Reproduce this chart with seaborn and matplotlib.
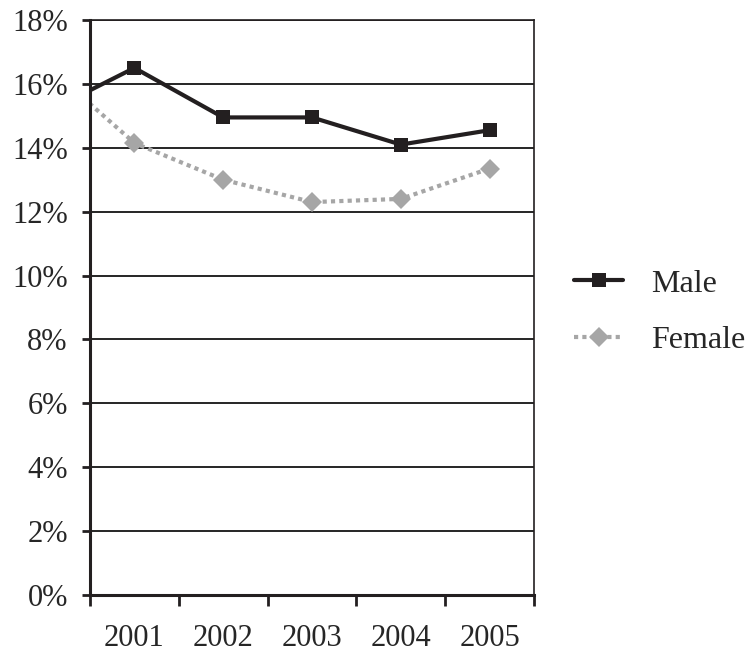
import pandas as pd
import numpy as np
import matplotlib
matplotlib.use("Agg")
import matplotlib.pyplot as plt
import seaborn as sns
from matplotlib.ticker import FuncFormatter

# data (2000 value only feeds the segment clipped at the left edge)
years = [2000, 2001, 2002, 2003, 2004, 2005]
male = [15.1, 16.5, 14.95, 14.95, 14.1, 14.55]
female = [16.6, 14.15, 13.0, 12.3, 12.4, 13.35]
year_labels = ["2001", "2002", "2003", "2004", "2005"]

df = pd.DataFrame({
    "year": years * 2,
    "value": male + female,
    "sex": ["Male"] * len(years) + ["Female"] * len(years),
})

sns.set_style("white")
plt.rcParams["font.family"] = ["Liberation Serif", "DejaVu Serif"]

fig = plt.figure(figsize=(7.54, 6.55), dpi=100)
ax = fig.add_axes([90 / 754, 1 - 595 / 655, 444 / 754, 575 / 655])

sns.lineplot(
    data=df, x="year", y="value", hue="sex", style="sex", ax=ax,
    palette={"Male": "#231f20", "Female": "#a6a6a6"},
    markers={"Male": "s", "Female": "D"},
    dashes={"Male": "", "Female": (1, 1)},
    linewidth=3, markersize=10, markeredgewidth=0,
)

ax.set_xlim(2000.5, 2005.5)
ax.set_ylim(0, 18)
ax.set_yticks(np.arange(0, 19, 2))
ax.yaxis.set_major_formatter(FuncFormatter(lambda v, p: f"{v:.0f}%"))
ax.grid(axis="y", color="black", linewidth=1.2)
ax.set_axisbelow(True)

ax.set_xticks(np.arange(2000.5, 2006, 1))
ax.set_xticklabels([])
ax.set_xticks(years[1:], minor=True)
ax.set_xticklabels(year_labels, minor=True)
ax.tick_params(axis="x", which="major", direction="out", length=8, width=2, color="#231f20", bottom=True)
ax.tick_params(axis="x", which="minor", length=0, pad=21, labelsize=22)
ax.tick_params(axis="y", direction="out", length=6, width=2, color="#231f20", left=True, pad=10, labelsize=22)

for s in ["left", "bottom"]:
    ax.spines[s].set_color("#231f20")
    ax.spines[s].set_linewidth(2.2)
for s in ["top", "right"]:
    ax.spines[s].set_color("#231f20")
    ax.spines[s].set_linewidth(1.2)

ax.set_xlabel("")
ax.set_ylabel("")
ax.legend(
    loc="center left", bbox_to_anchor=(1.09, 0.492), frameon=False,
    fontsize=23, handlelength=1.55, handletextpad=0.85, labelspacing=0.85,
    borderpad=0, borderaxespad=0,
)

fig.savefig("out.png", dpi=100)
